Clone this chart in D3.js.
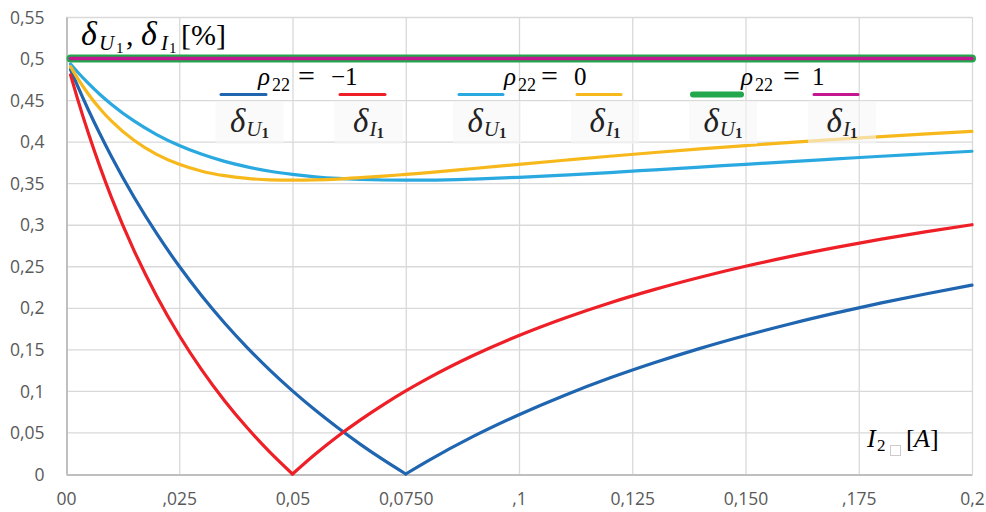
<!DOCTYPE html>
<html>
<head>
<meta charset="utf-8">
<script src="https://cdn.jsdelivr.net/npm/d3@7/dist/d3.min.js"></script>
<style>
  html, body { margin: 0; padding: 0; background: #ffffff; }
  svg { display: block; }
</style>
</head>
<body>
<svg id="chart" width="986" height="512"></svg>
<script>
// ---------- data ----------
const current = [0.001, 0.0025, 0.005, 0.0075, 0.01, 0.015, 0.02, 0.025, 0.03, 0.035, 0.04, 0.045, 0.05, 0.055, 0.06, 0.065, 0.07, 0.075, 0.08, 0.09, 0.1, 0.11, 0.12, 0.13, 0.14, 0.15, 0.16, 0.17, 0.18, 0.19, 0.2];

const dU_rhoMinus1 = [0.4868, 0.4677, 0.4375, 0.4091, 0.3824, 0.3333, 0.2895, 0.25, 0.2143, 0.1818, 0.1522, 0.125, 0.1, 0.0769, 0.0556, 0.0357, 0.0172, 0, 0.0161, 0.0455, 0.0714, 0.0946, 0.1154, 0.1341, 0.1512, 0.1667, 0.1809, 0.1939, 0.2059, 0.217, 0.2273];
const dI_rhoMinus1 = [0.4804, 0.4524, 0.4091, 0.3696, 0.3333, 0.2692, 0.2143, 0.1667, 0.125, 0.0882, 0.0556, 0.0263, 0, 0.0238, 0.0455, 0.0652, 0.0833, 0.1, 0.1154, 0.1429, 0.1667, 0.1875, 0.2059, 0.2222, 0.2368, 0.25, 0.2619, 0.2727, 0.2826, 0.2917, 0.3];
const dU_rho0 = [0.4935, 0.4841, 0.4698, 0.4568, 0.4451, 0.4249, 0.4085, 0.3953, 0.3847, 0.3762, 0.3696, 0.3644, 0.3606, 0.3577, 0.3557, 0.3545, 0.3538, 0.3536, 0.3537, 0.355, 0.3571, 0.3598, 0.3628, 0.3661, 0.3694, 0.3727, 0.376, 0.3792, 0.3824, 0.3854, 0.3884];
const dI_rho0 = [0.4903, 0.4768, 0.4568, 0.4396, 0.4249, 0.4016, 0.3847, 0.3727, 0.3644, 0.359, 0.3557, 0.354, 0.3536, 0.354, 0.355, 0.3566, 0.3584, 0.3606, 0.3628, 0.3677, 0.3727, 0.3776, 0.3824, 0.3869, 0.3912, 0.3953, 0.3991, 0.4027, 0.4061, 0.4093, 0.4123];
const dU_rho1 = [0.5, 0.5, 0.5, 0.5, 0.5, 0.5, 0.5, 0.5, 0.5, 0.5, 0.5, 0.5, 0.5, 0.5, 0.5, 0.5, 0.5, 0.5, 0.5, 0.5, 0.5, 0.5, 0.5, 0.5, 0.5, 0.5, 0.5, 0.5, 0.5, 0.5, 0.5];
const dI_rho1 = [0.5, 0.5, 0.5, 0.5, 0.5, 0.5, 0.5, 0.5, 0.5, 0.5, 0.5, 0.5, 0.5, 0.5, 0.5, 0.5, 0.5, 0.5, 0.5, 0.5, 0.5, 0.5, 0.5, 0.5, 0.5, 0.5, 0.5, 0.5, 0.5, 0.5, 0.5];

const xTickValues = [0, 0.025, 0.05, 0.075, 0.1, 0.125, 0.15, 0.175, 0.2];
const xTickLabels = ["00", ",025", "0,05", "0,0750", ",1", "0,125", "0,150", ",175", "0,2"];
const yTickValues = [0, 0.05, 0.1, 0.15, 0.2, 0.25, 0.3, 0.35, 0.4, 0.45, 0.5, 0.55];
const yTickLabels = ["0", "0,05", "0,1", "0,15", "0,2", "0,25", "0,3", "0,35", "0,4", "0,45", "0,5", "0,55"];

const seriesNames = ["δU1 ρ22=−1", "δI1 ρ22=−1", "δU1 ρ22=0", "δI1 ρ22=0", "δU1 ρ22=1", "δI1 ρ22=1"];
const seriesValues = [dU_rhoMinus1, dI_rhoMinus1, dU_rho0, dI_rho0, dU_rho1, dI_rho1];
const seriesKinds = ["U", "I", "U", "I", "U", "I"];
const rhoLabels = ["−1", "0", "1"];

// ---------- styles / layout ----------
const colors = ["#1f65b0", "#ee1f26", "#2aa9e0", "#f7b81c", "#22a74d", "#c4168f"];
const widths = [3.2, 3.2, 3.2, 3.2, 8, 3.5];
const legendSampleWidths = [3, 3, 3, 3, 6, 3];

const plot = { left: 66, right: 972, top: 17, bottom: 474 };
const svg = d3.select("#chart");

const x = d3.scaleLinear().domain([0, 0.2]).range([plot.left, plot.right]);
const y = d3.scaleLinear().domain([0, 0.55]).range([plot.bottom, plot.top]);

// gridlines
const grid = svg.append("g");
grid.selectAll("line.h").data(yTickValues.filter(v => v > 0)).join("line")
  .attr("x1", plot.left).attr("x2", plot.right)
  .attr("y1", d => y(d) + 0.5).attr("y2", d => y(d) + 0.5)
  .attr("stroke", "#d9d9d9").attr("stroke-width", 1.3);
grid.selectAll("line.v").data(xTickValues.filter(v => v > 0)).join("line")
  .attr("x1", d => x(d) + 0.5).attr("x2", d => x(d) + 0.5)
  .attr("y1", plot.top).attr("y2", plot.bottom)
  .attr("stroke", "#d9d9d9").attr("stroke-width", 1.3);

// axes
const tickFont = "'Open Sans', 'Liberation Sans', sans-serif";
const xAxis = d3.axisBottom(x).tickValues(xTickValues)
  .tickFormat((d, i) => xTickLabels[i]).tickSize(0).tickPadding(20);
const yAxis = d3.axisLeft(y).tickValues(yTickValues)
  .tickFormat((d, i) => yTickLabels[i]).tickSize(0).tickPadding(22);

const gx = svg.append("g").attr("transform", `translate(0,${plot.bottom + 0.5})`).call(xAxis);
const gy = svg.append("g").attr("transform", `translate(${plot.left + 0.5},0)`).call(yAxis);
[gx, gy].forEach(g => {
  g.select(".domain").attr("stroke", "#bfbfbf").attr("stroke-width", 2);
  g.selectAll("text").attr("fill", "#595959")
    .attr("font-family", tickFont)
    .attr("font-size", 17.5);
});
gy.selectAll("text").attr("dy", "0.35em");
gx.selectAll("text").attr("dy", "0.6em");

// series lines: each V-shaped series is drawn as two monotone branches meeting at its zero
const line = d3.line().x(d => x(d[0])).y(d => y(d[1])).curve(d3.curveMonotoneX);
const lines = svg.append("g");
seriesValues.forEach((vals, k) => {
  const pts = vals.map((v, i) => [current[i], v]);
  const zero = vals.indexOf(0);
  const branches = zero > 0 ? [pts.slice(0, zero + 1), pts.slice(zero)] : [pts];
  branches.forEach(b => {
    lines.append("path").datum(b)
      .attr("d", line)
      .attr("fill", "none")
      .attr("stroke", colors[k])
      .attr("stroke-width", widths[k])
      .attr("stroke-linecap", "round")
      .attr("stroke-linejoin", "round");
  });
});

// ---------- text helpers ----------
const serif = "'Liberation Serif', 'DejaVu Serif', serif";

// Title δ_{U_1}, δ_{I_1} [%]
const title = svg.append("text").attr("font-family", serif).attr("fill", "#000");
title.append("tspan").attr("x", 81).attr("y", 45).attr("font-size", 34).attr("font-style", "italic").text("δ");
title.append("tspan").attr("x", 99).attr("y", 50).attr("font-size", 21).attr("font-style", "italic").text("U");
title.append("tspan").attr("x", 116).attr("y", 53).attr("font-size", 15).text("1");
title.append("tspan").attr("x", 126).attr("y", 45).attr("font-size", 30).text(",");
title.append("tspan").attr("x", 141).attr("y", 45).attr("font-size", 34).attr("font-style", "italic").text("δ");
title.append("tspan").attr("x", 161).attr("y", 50).attr("font-size", 21).attr("font-style", "italic").text("I");
title.append("tspan").attr("x", 169).attr("y", 53).attr("font-size", 15).text("1");
title.append("tspan").attr("x", 181).attr("y", 45).attr("font-size", 30).text("[%]");

// x-axis label I_2 [A]
const xl = svg.append("text").attr("font-family", serif).attr("fill", "#000");
xl.append("tspan").attr("x", 867).attr("y", 447).attr("font-size", 26).attr("font-style", "italic").text("I");
xl.append("tspan").attr("x", 877).attr("y", 451).attr("font-size", 17).text("2");
xl.append("tspan").attr("x", 906).attr("y", 447).attr("font-size", 26).text("[");
xl.append("tspan").attr("x", 914).attr("y", 447).attr("font-size", 26).attr("font-style", "italic").text("A");
xl.append("tspan").attr("x", 930).attr("y", 447).attr("font-size", 26).text("]");
svg.append("rect").attr("x", 890.5).attr("y", 445.5).attr("width", 10).attr("height", 10)
  .attr("fill", "none").attr("stroke", "#999").attr("stroke-width", 1).attr("stroke-dasharray", "1,1");

// ---------- legend ----------
const sampleX = [[219, 268], [338, 387], [457, 505], [575, 623], [691, 743], [812, 860]];
const sampleY = 94.5;
const legend = svg.append("g");
seriesNames.forEach((name, k) => {
  const [a, b] = sampleX[k];
  const cx = (a + b) / 2 + 6;
  legend.append("rect").attr("x", cx - 34).attr("y", 101).attr("width", 68).attr("height", 43)
    .attr("fill", "#f7f7f7").attr("opacity", 0.6);
  legend.append("line").attr("x1", a + 2).attr("x2", b - 2).attr("y1", sampleY).attr("y2", sampleY)
    .attr("stroke", colors[k]).attr("stroke-width", legendSampleWidths[k]).attr("stroke-linecap", "round");
  const t = legend.append("text").attr("x", cx).attr("y", 132).attr("text-anchor", "middle")
    .attr("font-family", serif).attr("fill", "#222");
  t.append("tspan").attr("font-size", 33).attr("font-style", "italic").text("δ");
  t.append("tspan").attr("font-size", 21).attr("font-style", "italic").attr("dy", 4).attr("dx", 1).text(seriesKinds[k]);
  t.append("tspan").attr("font-size", 15).attr("font-weight", "bold").attr("dy", 2).text("1");
});

// ρ22 = value labels
const rhoPos = [[258, 298, 331], [504, 541, 574], [741, 783, 812]];
rhoLabels.forEach((v, k) => {
  const [px, ex, vx] = rhoPos[k];
  const t = legend.append("text").attr("font-family", serif).attr("fill", "#000");
  t.append("tspan").attr("x", px).attr("y", 85).attr("font-size", 25).attr("font-style", "italic").text("ρ");
  t.append("tspan").attr("x", px + 14).attr("y", 91).attr("font-size", 18).text("22");
  t.append("tspan").attr("x", ex).attr("y", 86).attr("font-size", 30).text("=");
  t.append("tspan").attr("x", vx).attr("y", 85).attr("font-size", 25).text(v);
});
</script>
</body>
</html>
